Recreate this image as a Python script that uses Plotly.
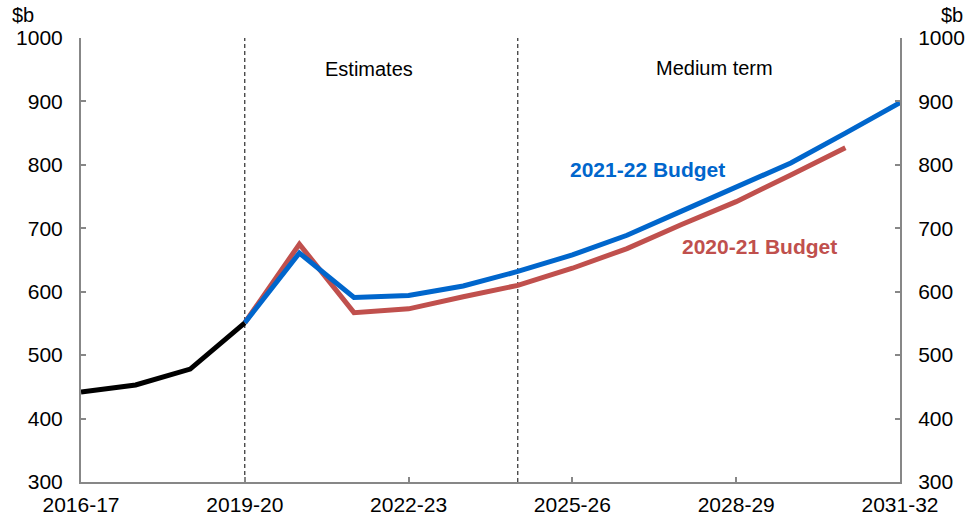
import plotly.graph_objects as go

years = ["2016-17", "2017-18", "2018-19", "2019-20", "2020-21", "2021-22",
         "2022-23", "2023-24", "2024-25", "2025-26", "2026-27", "2027-28",
         "2028-29", "2029-30", "2030-31", "2031-32"]

# Historical outcomes ($b)
actual_years = years[0:4]
actual = [442, 453, 478, 551]

# 2021-22 Budget projection ($b)
budget_2122_years = years[3:16]
budget_2122 = [551, 661, 591, 594, 609, 632, 658, 689, 727, 764, 803, 850, 898]

# 2020-21 Budget projection ($b)
budget_2021_years = years[3:15]
budget_2021 = [551, 675, 567, 573, 592, 610, 637, 668, 706, 742, 784, 827]

tick_labels = ["2016-17", "2019-20", "2022-23", "2025-26", "2028-29", "2031-32"]
y_ticks = [300, 400, 500, 600, 700, 800, 900, 1000]

BLUE = "#0066CC"
RED = "#C0504D"
AXIS = "#878787"
FONT = "Liberation Sans, Arial, sans-serif"
FS = 21

fig = go.Figure()

fig.add_trace(go.Scatter(x=budget_2021_years, y=budget_2021, mode="lines",
                         line=dict(color=RED, width=5), showlegend=False))
fig.add_trace(go.Scatter(x=budget_2122_years, y=budget_2122, mode="lines",
                         line=dict(color=BLUE, width=5), showlegend=False))
fig.add_trace(go.Scatter(x=actual_years, y=actual, mode="lines",
                         line=dict(color="black", width=5), showlegend=False))
# carrier for the right-hand axis
fig.add_trace(go.Scatter(x=years, y=[None] * len(years), yaxis="y2",
                         mode="lines", showlegend=False, hoverinfo="skip"))

# Period dividers
for yr in ["2019-20", "2024-25"]:
    fig.add_shape(type="line", xref="x", yref="paper",
                  x0=years.index(yr), x1=years.index(yr), y0=0, y1=1,
                  line=dict(color="black", width=1, dash="4px,3px"),
                  layer="below")

ax_common = dict(showgrid=False, zeroline=False, showline=True,
                 linecolor=AXIS, linewidth=2, ticks="inside", ticklen=5,
                 tickcolor=AXIS, tickwidth=2, automargin=False,
                 tickfont=dict(family=FONT, size=FS, color="black"))

fig.update_layout(
    width=970, height=519,
    margin=dict(l=81, r=70, t=38, b=37, autoexpand=False),
    paper_bgcolor="white", plot_bgcolor="white",
    font=dict(family=FONT, size=FS, color="black"),
    xaxis=dict(type="category", categoryorder="array", categoryarray=years,
               range=[0, 15], tickmode="array", tickvals=tick_labels,
               ticktext=tick_labels, ticklabelstandoff=3, **ax_common),
    yaxis=dict(range=[300, 1000], tickvals=y_ticks, ticklabelstandoff=12,
               **ax_common),
    yaxis2=dict(range=[300, 1000], tickvals=y_ticks, overlaying="y",
                side="right", ticklabelstandoff=12, **ax_common),
)

ann = [
    dict(text="Estimates", x=5.27, y=951, xref="x", yref="y",
         font=dict(size=20, color="black")),
    dict(text="Medium term", x=11.6, y=952, xref="x", yref="y",
         font=dict(size=20, color="black")),
    dict(text="<b>2021-22 Budget</b>", x=10.37, y=792, xref="x", yref="y",
         font=dict(size=21, color=BLUE)),
    dict(text="<b>2020-21 Budget</b>", x=12.42, y=672, xref="x", yref="y",
         font=dict(size=21, color=RED)),
    dict(text="$b", x=-0.087, y=1.0, yshift=10, xref="paper", yref="paper",
         xanchor="left", yanchor="bottom", font=dict(size=20, color="black")),
    dict(text="$b", x=1.079, y=1.0, yshift=10, xref="paper", yref="paper",
         xanchor="right", yanchor="bottom", font=dict(size=20, color="black")),
]
fig.update_layout(annotations=[dict(showarrow=False, **a) for a in ann])

fig.write_html("out.html")
